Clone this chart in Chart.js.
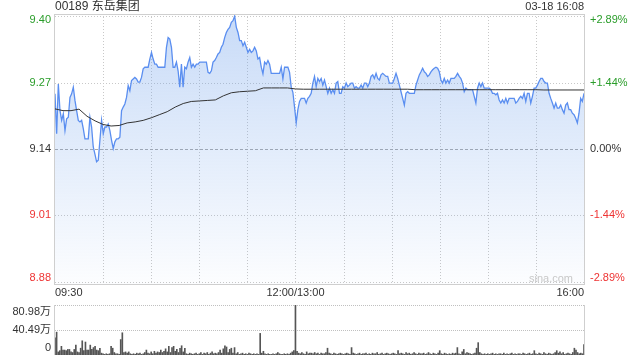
<!DOCTYPE html>
<html>
<head>
<meta charset="utf-8">
<script src="https://cdn.jsdelivr.net/npm/chart.js@4.4.0/dist/chart.umd.min.js"></script>
<style>
html, body { margin: 0; padding: 0; background: #fff; }
#wrap { position: relative; width: 640px; height: 360px; }
#priceChart { position: absolute; left: 0; top: 0; }
#volChart { position: absolute; left: 0; top: 300px; }
</style>
</head>
<body>
<div id="wrap">
  <canvas id="priceChart" width="640" height="300"></canvas>
  <canvas id="volChart" width="640" height="60"></canvas>
</div>
<script>
const stockName = "00189 东岳集团";
const stamp = "03-18 16:08";
const prevClose = 9.14;
const maxPct = 2.89;
const priceTicks = [9.40, 9.27, 9.14, 9.01, 8.88];
const priceLabels = ["9.40", "9.27", "9.14", "9.01", "8.88"];
const pctLabels = ["+2.89%", "+1.44%", "0.00%", "-1.44%", "-2.89%"];
const gridMinutes = [30, 60, 90, 120, 150, 180, 210, 240, 270, 300];
const timeLabels = ["09:30", "12:00/13:00", "16:00"];
const timeLabelAt = [0, 150, 330];
const volTicks = [0, 40.49, 80.98];
const volLabels = ["0", "40.49万", "80.98万"];

// minute line, 09:30 -> 16:00, evenly spaced samples
const prices = [
  9.248, 9.170, 9.267, 9.215, 9.196, 9.209, 9.176, 9.199, 9.202, 9.241,
  9.248, 9.261, 9.235, 9.215, 9.196, 9.193, 9.196, 9.180, 9.160, 9.160,
  9.160, 9.202, 9.183, 9.144, 9.130, 9.115, 9.118, 9.157, 9.196, 9.170,
  9.183, 9.183, 9.189, 9.176, 9.157, 9.141, 9.154, 9.160, 9.160, 9.163,
  9.215, 9.222, 9.228, 9.241, 9.264, 9.254, 9.274, 9.277, 9.280, 9.277,
  9.271, 9.271, 9.280, 9.297, 9.300, 9.300, 9.300, 9.316, 9.329, 9.316,
  9.306, 9.306, 9.300, 9.300, 9.300, 9.300, 9.300, 9.339, 9.358, 9.355,
  9.339, 9.300, 9.300, 9.310, 9.293, 9.261, 9.306, 9.261, 9.300, 9.297,
  9.310, 9.319, 9.300, 9.306, 9.300, 9.306, 9.306, 9.310, 9.310, 9.310,
  9.310, 9.310, 9.290, 9.288, 9.293, 9.310, 9.313, 9.319, 9.326, 9.329,
  9.339, 9.345, 9.358, 9.368, 9.374, 9.378, 9.388, 9.391, 9.400, 9.378,
  9.368, 9.352, 9.352, 9.342, 9.349, 9.339, 9.329, 9.335, 9.329, 9.332,
  9.339, 9.332, 9.316, 9.319, 9.300, 9.287, 9.310, 9.306, 9.313, 9.306,
  9.288, 9.288, 9.288, 9.288, 9.288, 9.288, 9.300, 9.277, 9.300, 9.300,
  9.300, 9.290, 9.261, 9.251, 9.222,
  9.191, 9.217, 9.233, 9.239, 9.239, 9.239, 9.230, 9.239, 9.243, 9.249,
  9.269, 9.282, 9.262, 9.278, 9.272, 9.278, 9.265, 9.275, 9.262, 9.249,
  9.259, 9.249, 9.256, 9.249, 9.269, 9.272, 9.249, 9.249, 9.262, 9.259,
  9.269, 9.262, 9.265, 9.269, 9.269, 9.259, 9.262, 9.259, 9.259, 9.265,
  9.259, 9.269, 9.269, 9.262, 9.269, 9.282, 9.285, 9.278, 9.288, 9.278,
  9.275, 9.285, 9.288, 9.285, 9.282, 9.282, 9.269, 9.269, 9.269, 9.278,
  9.288, 9.278, 9.265, 9.252, 9.239, 9.226, 9.249, 9.252, 9.249, 9.249,
  9.249, 9.249, 9.265, 9.275, 9.285, 9.291, 9.298, 9.291, 9.288, 9.282,
  9.285, 9.291, 9.295, 9.298, 9.300, 9.298, 9.291, 9.275, 9.269, 9.278,
  9.269, 9.275, 9.269, 9.278, 9.278, 9.278, 9.282, 9.288, 9.282, 9.278,
  9.269, 9.252, 9.259, 9.256, 9.256, 9.256, 9.256, 9.243, 9.230, 9.259,
  9.269, 9.262, 9.269, 9.259, 9.259, 9.259, 9.259, 9.256, 9.249, 9.249,
  9.246, 9.249, 9.236, 9.230, 9.236, 9.230, 9.239, 9.230, 9.239, 9.239,
  9.239, 9.239, 9.230, 9.233, 9.239, 9.243, 9.239, 9.249, 9.233, 9.249,
  9.249, 9.230, 9.243, 9.259, 9.259, 9.265, 9.272, 9.278, 9.278, 9.272,
  9.269, 9.269, 9.249, 9.239, 9.230, 9.220, 9.230, 9.220, 9.220, 9.226,
  9.217, 9.210, 9.226, 9.230, 9.217, 9.217, 9.210, 9.207, 9.200, 9.191,
  9.210, 9.239, 9.233, 9.249
];

// average price, every 5 minutes
const avgPrices = [
  9.2185, 9.215, 9.215, 9.218, 9.204, 9.195, 9.188, 9.185, 9.186, 9.191,
  9.193, 9.196, 9.201, 9.207, 9.213, 9.222, 9.229, 9.233, 9.234, 9.235,
  9.236, 9.244, 9.250, 9.252, 9.253, 9.254, 9.2595, 9.2595, 9.2595, 9.2595,
  9.2575, 9.257, 9.257, 9.257, 9.257, 9.257, 9.257, 9.257, 9.257, 9.257,
  9.257, 9.257, 9.257, 9.257, 9.257, 9.256, 9.256, 9.256, 9.256, 9.256,
  9.256, 9.256, 9.256, 9.256, 9.256, 9.256, 9.256, 9.256, 9.256, 9.256,
  9.256, 9.2555, 9.2555, 9.2555, 9.2555, 9.2555, 9.2555
];

// volume per minute, 万股
const volumes = [
  28, 37, 5, 7, 14, 8, 8, 7, 9, 9,
  5, 4, 9, 16, 5, 4, 11, 23, 7, 21,
  8, 8, 16, 9, 12, 14, 8, 7, 11, 3,
  2, 1, 2, 1, 2, 14, 11, 4, 2, 2,
  1, 25, 36, 4, 5, 3, 5, 2, 1, 2,
  1, 3, 2, 3, 1, 2, 4, 8, 3, 2,
  5, 2, 6, 3, 5, 4, 8, 4, 6, 10,
  5, 14, 4, 12, 14, 6, 9, 4, 11, 15,
  5, 11, 2, 1, 3, 2, 1, 2, 3, 1,
  2, 4, 1, 3, 2, 4, 1, 3, 5, 2,
  3, 2, 4, 8, 3, 10, 15, 13, 4, 9,
  11, 3, 12, 2, 4, 1, 2, 3, 1, 2,
  1, 3, 2, 1, 2, 1, 2, 1, 35, 3,
  6, 2, 1, 2, 1, 1, 2, 1, 2, 4,
  2, 1, 1, 2, 1, 2, 1, 3, 5, 7,
  80.98, 6, 3, 2, 4, 2, 1, 5, 2, 3,
  3, 2, 4, 2, 3, 1, 3, 2, 2, 4,
  11, 3, 2, 1, 3, 2, 1, 2, 3, 2,
  1, 2, 3, 2, 1, 12, 3, 2, 1, 2,
  3, 1, 2, 2, 3, 1, 2, 1, 3, 2,
  2, 4, 1, 2, 3, 1, 2, 3, 2, 1,
  2, 3, 2, 1, 7, 2, 3, 2, 1, 4,
  2, 3, 1, 2, 4, 2, 1, 3, 2, 2,
  3, 1, 2, 4, 2, 1, 3, 2, 1, 3,
  7, 2, 1, 3, 2, 1, 2, 1, 3, 2,
  3, 12, 2, 1, 5, 9, 2, 4, 3, 2,
  1, 2, 3, 11, 20, 4, 2, 1, 2, 1,
  2, 1, 2, 3, 1, 2, 1, 2, 2, 1,
  3, 1, 2, 1, 2, 3, 1, 2, 1, 2,
  2, 1, 3, 2, 1, 2, 3, 1, 2, 7,
  2, 1, 3, 2, 1, 4, 2, 1, 3, 2,
  1, 2, 4, 7, 3, 5, 2, 4, 1, 2,
  3, 2, 1, 4, 11, 8, 4, 2, 3, 2,
  17
];

const FONT = "'Liberation Sans', 'Noto Sans CJK SC', sans-serif";
const GREEN = "#2a9d2a";
const RED = "#ee3333";
const DARK = "#333";

function labelColor(i) {
  if (i < 2) return GREEN;
  if (i > 2) return RED;
  return DARK;
}

const spread = (arr, span) => arr.map((v, i) => ({ x: i * span / (arr.length - 1), y: v }));
const half = (p) => Math.round(p) + 0.5;

function hLine(ctx, a, y, color, dash) {
  ctx.strokeStyle = color;
  ctx.setLineDash(dash);
  ctx.beginPath();
  ctx.moveTo(a.left, half(y));
  ctx.lineTo(a.right, half(y));
  ctx.stroke();
}

const priceGrid = {
  id: "priceGrid",
  beforeDatasetsDraw(chart) {
    const { ctx, chartArea: a, scales } = chart;
    ctx.save();
    ctx.lineWidth = 1;
    gridMinutes.forEach((m) => {
      const x = half(scales.x.getPixelForValue(m));
      ctx.strokeStyle = "#c8c8c8";
      ctx.setLineDash([1, 2]);
      ctx.beginPath();
      ctx.moveTo(x, a.top);
      ctx.lineTo(x, a.bottom);
      ctx.stroke();
    });
    priceTicks.forEach((v) => {
      if (v === prevClose) hLine(ctx, a, scales.y.getPixelForValue(v), "#a8a8a8", [3, 2]);
      else hLine(ctx, a, scales.y.getPixelForValue(v), "#c8c8c8", [1, 2]);
    });
    ctx.restore();
  },
  afterDraw(chart) {
    const { ctx, chartArea: a, scales } = chart;
    ctx.save();
    // frame
    ctx.strokeStyle = "#cfcfcf";
    ctx.lineWidth = 1;
    ctx.strokeRect(a.left - 0.5, a.top + 0.5, a.right - a.left + 1, a.bottom - a.top);
    // title + stamp
    ctx.fillStyle = DARK;
    ctx.textBaseline = "middle";
    ctx.font = "12px " + FONT;
    ctx.textAlign = "left";
    ctx.fillText(stockName, 55, 7);
    ctx.font = "11px " + FONT;
    ctx.textAlign = "right";
    ctx.fillText(stamp, 584, 7);
    // y labels
    priceTicks.forEach((v, i) => {
      let y = scales.y.getPixelForValue(v);
      y = Math.min(Math.max(y, a.top + 6), a.bottom - 6);
      ctx.fillStyle = labelColor(i);
      ctx.textAlign = "right";
      ctx.fillText(priceLabels[i], a.left - 4, y);
      ctx.textAlign = "left";
      ctx.fillText(pctLabels[i], a.right + 6, y);
    });
    // x labels
    ctx.fillStyle = DARK;
    timeLabelAt.forEach((m, i) => {
      const x = scales.x.getPixelForValue(m);
      ctx.textAlign = i === 0 ? "left" : (i === timeLabelAt.length - 1 ? "right" : "center");
      ctx.fillText(timeLabels[i], x, 293);
    });
    // watermark
    ctx.fillStyle = "#c8c8c8";
    ctx.textAlign = "right";
    ctx.fillText("sina.com", 573, 279);
    ctx.restore();
  }
};

new Chart(document.getElementById("priceChart"), {
  type: "line",
  data: {
    datasets: [
      {
        data: spread(avgPrices, 330),
        borderColor: "#333",
        borderWidth: 1,
        pointRadius: 0,
        fill: false
      },
      {
        data: spread(prices, 330),
        borderColor: "#5a8ef0",
        borderWidth: 1.3,
        pointRadius: 0,
        fill: "start",
        backgroundColor: (c) => {
          const a = c.chart.chartArea;
          if (!a) return "rgba(110,160,235,0.3)";
          const g = c.chart.ctx.createLinearGradient(0, a.top, 0, a.bottom);
          g.addColorStop(0, "rgba(110,160,235,0.38)");
          g.addColorStop(1, "rgba(110,160,235,0.02)");
          return g;
        }
      }
    ]
  },
  options: {
    responsive: false,
    animation: false,
    layout: { padding: { left: 55, right: 56, top: 14, bottom: 16 } },
    plugins: { legend: { display: false }, tooltip: { enabled: false } },
    scales: {
      x: {
        type: "linear", min: 0, max: 330,
        afterFit: (s) => { s.height = 0; },
        ticks: { display: false },
        grid: { display: false },
        border: { display: false }
      },
      y: {
        min: prevClose * (1 - maxPct / 100),
        max: prevClose * (1 + maxPct / 100),
        afterFit: (s) => { s.width = 0; },
        ticks: { display: false },
        grid: { display: false },
        border: { display: false }
      }
    }
  },
  plugins: [priceGrid]
});

const volDeco = {
  id: "volDeco",
  beforeDatasetsDraw(chart) {
    const { ctx, chartArea: a, scales } = chart;
    ctx.save();
    ctx.lineWidth = 1;
    volTicks.forEach((v) => {
      if (v > 0) hLine(ctx, a, Math.max(scales.y.getPixelForValue(v), a.top), "#c0c0c0", [1, 1]);
    });
    ctx.restore();
  },
  afterDraw(chart) {
    const { ctx, chartArea: a, scales } = chart;
    ctx.save();
    ctx.strokeStyle = "#cfcfcf";
    ctx.lineWidth = 1;
    ctx.beginPath();
    ctx.moveTo(a.left - 0.5, a.top);
    ctx.lineTo(a.left - 0.5, a.bottom);
    ctx.moveTo(a.right + 0.5, a.top);
    ctx.lineTo(a.right + 0.5, a.bottom);
    ctx.stroke();
    ctx.fillStyle = DARK;
    ctx.font = "11px " + FONT;
    ctx.textAlign = "right";
    ctx.textBaseline = "middle";
    volTicks.forEach((v, i) => {
      let y = scales.y.getPixelForValue(v);
      y = Math.min(Math.max(y, a.top + 7), a.bottom - 7);
      ctx.fillText(volLabels[i], a.left - 4, y);
    });
    ctx.restore();
  }
};

new Chart(document.getElementById("volChart"), {
  type: "bar",
  data: {
    datasets: [{
      data: volumes.map((v, i) => ({ x: i, y: v })),
      backgroundColor: "#555",
      borderWidth: 0,
      barThickness: 1
    }]
  },
  options: {
    responsive: false,
    animation: false,
    layout: { padding: { left: 55, right: 56, top: 5, bottom: 5 } },
    plugins: { legend: { display: false }, tooltip: { enabled: false } },
    scales: {
      x: {
        type: "linear", min: 0, max: 330, offset: false,
        display: false
      },
      y: {
        min: 0, max: volTicks[volTicks.length - 1],
        afterFit: (s) => { s.width = 0; },
        ticks: { display: false },
        grid: { display: false },
        border: { display: false }
      }
    }
  },
  plugins: [volDeco]
});
</script>
</body>
</html>
